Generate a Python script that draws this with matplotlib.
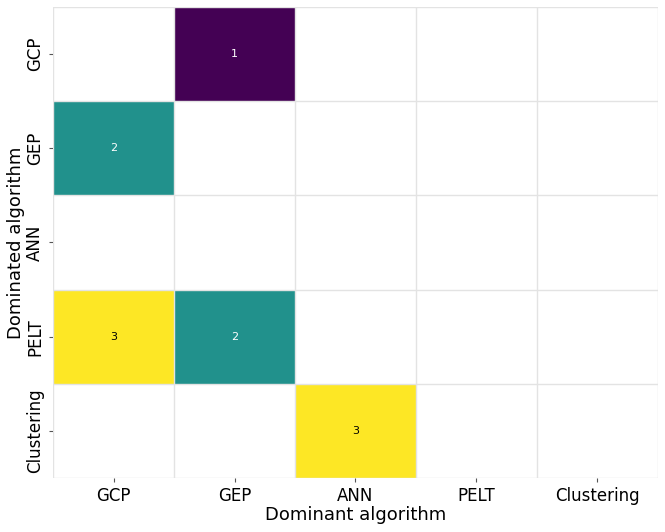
import numpy as np
import matplotlib.pyplot as plt

algorithms = ['GCP', 'GEP', 'ANN', 'PELT', 'Clustering']
# rows: dominated algorithm, columns: dominant algorithm
counts = np.array([
    [0, 1, 0, 0, 0],
    [2, 0, 0, 0, 0],
    [0, 0, 0, 0, 0],
    [3, 2, 0, 0, 0],
    [0, 0, 3, 0, 0],
])

fig = plt.figure(figsize=(6.65, 5.32), dpi=100)
ax = fig.add_axes([0.08, 0.1015, 0.909, 0.8855])

cmap = plt.get_cmap('viridis').copy()
cmap.set_bad('white')
masked = np.ma.masked_where(counts == 0, counts)
ax.pcolormesh(masked, cmap=cmap, vmin=1, vmax=3)

n = len(algorithms)
ax.set_xlim(0, n)
ax.set_ylim(n, 0)
for k in range(n + 1):
    ax.axhline(k, color='#e3e3e3', linewidth=1, zorder=3)
    ax.axvline(k, color='#e3e3e3', linewidth=1, zorder=3)

for i in range(n):
    for j in range(n):
        v = counts[i, j]
        if v > 0:
            c = 'black' if v == 3 else 'white'
            ax.text(j + 0.5, i + 0.5, str(v), ha='center', va='center',
                    fontsize=8, color=c, zorder=4)

ax.set_xticks(np.arange(n) + 0.5)
ax.set_yticks(np.arange(n) + 0.5)
ax.set_xticklabels(algorithms, fontsize=12)
ax.set_yticklabels(algorithms, fontsize=12, rotation=90, va='center')
ax.tick_params(length=3, color='#555555', width=0.8)
for s in ax.spines.values():
    s.set_visible(False)
ax.set_xlabel('Dominant algorithm', fontsize=13, labelpad=1)
ax.set_ylabel('Dominated algorithm', fontsize=13, labelpad=1)

fig.savefig('out.png', dpi=100)
